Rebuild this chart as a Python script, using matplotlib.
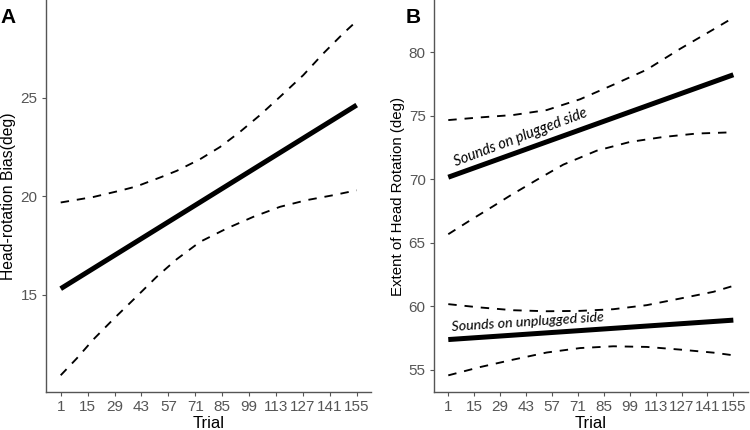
import matplotlib
matplotlib.use("Agg")
import matplotlib.pyplot as plt

plt.rcParams['font.family'] = ['Liberation Sans', 'DejaVu Sans']

# ---- data ----
trial_ticks = [1, 15, 29, 43, 57, 71, 85, 99, 113, 127, 141, 155]

# Panel A: head-rotation bias fit and confidence bounds
a_fit_x = [1, 155]
a_fit_y = [15.3, 24.63]
a_up_x = [1, 18, 32.7, 40.5, 53.5, 61.4, 73.5, 83.9, 94.3, 104.7, 115.1, 127.2, 137.6, 148, 155]
a_up_y = [19.68, 19.96, 20.3, 20.5, 20.98, 21.29, 21.88, 22.5, 23.27, 24.12, 25.05, 26.15, 27.25, 28.27, 28.9]
a_lo_x = [1, 9.3, 18, 28.4, 40.5, 50.9, 61.4, 73.5, 87.4, 101.2, 115.1, 129, 142.8, 155]
a_lo_y = [10.9, 11.75, 12.72, 13.75, 14.9, 15.9, 16.8, 17.68, 18.36, 18.95, 19.46, 19.8, 20.05, 20.3]

# Panel B: sounds on plugged side
p_fit_x = [1, 155]
p_fit_y = [70.16, 78.23]
p_up_x = [1, 18.1, 36.1, 54.2, 72.2, 90.1, 108.2, 126.2, 144.2, 155]
p_up_y = [74.66, 74.87, 75.06, 75.45, 76.3, 77.44, 78.63, 80.27, 81.8, 82.73]
p_lo_x = [1, 12.7, 26.1, 34.3, 48.8, 63.1, 81.2, 99.2, 117.2, 135.2, 155]
p_lo_y = [65.67, 66.75, 67.95, 68.7, 69.95, 71.15, 72.25, 72.94, 73.33, 73.6, 73.7]

# Panel B: sounds on unplugged side
u_fit_x = [1, 155]
u_fit_y = [57.37, 58.9]
u_up_x = [1, 18.1, 36.1, 54.2, 72.2, 90.1, 108.2, 126.2, 144.2, 155]
u_up_y = [60.16, 59.9, 59.68, 59.6, 59.63, 59.76, 60.08, 60.6, 61.13, 61.6]
u_lo_x = [1, 18.1, 36.1, 54.2, 72.2, 90.1, 108.2, 126.2, 144.2, 155]
u_lo_y = [54.55, 55.2, 55.79, 56.35, 56.7, 56.84, 56.79, 56.58, 56.34, 56.13]

fig = plt.figure(figsize=(7.5, 4.3), dpi=100)
axA = fig.add_axes([0.0612, 0.0884, 0.4341, 0.9116])
axB = fig.add_axes([0.5787, 0.0884, 0.4181, 0.9116])

grey = '#555555'
dash = dict(color='black', lw=1.35, dashes=(4.5, 4.2))
solid = dict(color='black', lw=3.6, solid_capstyle='butt')

def style(ax, ylabel, ysize):
    for s in ['top', 'right']:
        ax.spines[s].set_visible(False)
    for s in ['left', 'bottom']:
        ax.spines[s].set_color('#555555')
        ax.spines[s].set_linewidth(1.0)
    ax.tick_params(colors=grey, labelsize=11, length=3, width=0.8, pad=3)
    ax.set_xticks(trial_ticks)
    ax.set_xlim(-6.7, 162.7)
    ax.set_xlabel('Trial', fontsize=12, labelpad=1)
    ax.set_ylabel(ylabel, fontsize=ysize, labelpad=3)

# Panel A
axA.plot(a_fit_x, a_fit_y, **solid)
axA.plot(a_up_x, a_up_y, **dash)
axA.plot(a_lo_x, a_lo_y, **dash)
axA.set_ylim(10.05, 29.97)
axA.set_yticks([15, 20, 25])
style(axA, 'Head-rotation Bias(deg)', 11.3)

# Panel B
axB.plot(p_fit_x, p_fit_y, **solid)
axB.plot(p_up_x, p_up_y, **dash)
axB.plot(p_lo_x, p_lo_y, **dash)
axB.plot(u_fit_x, u_fit_y, **solid)
axB.plot(u_up_x, u_up_y, **dash)
axB.plot(u_lo_x, u_lo_y, **dash)
axB.set_ylim(53.24, 84.12)
axB.set_yticks([55, 60, 65, 70, 75, 80])
style(axB, 'Extent of Head Rotation (deg)', 10.8)

axB.text(5.2, 71.0, 'Sounds on plugged side', fontsize=10.5, style='italic',
         rotation=20.7, rotation_mode='anchor', ha='left', va='baseline',
         family=['Lato', 'DejaVu Sans'])
axB.text(2.8, 58.05, 'Sounds on unplugged side', fontsize=10.3, style='italic',
         rotation=3.7, rotation_mode='anchor', ha='left', va='baseline',
         family=['Lato', 'DejaVu Sans'])

fig.text(0.0, 0.96, 'A', fontsize=15, fontweight='bold', ha='left', va='center')
fig.text(0.541, 0.96, 'B', fontsize=15, fontweight='bold', ha='left', va='center')

fig.savefig('out.png', dpi=100)
